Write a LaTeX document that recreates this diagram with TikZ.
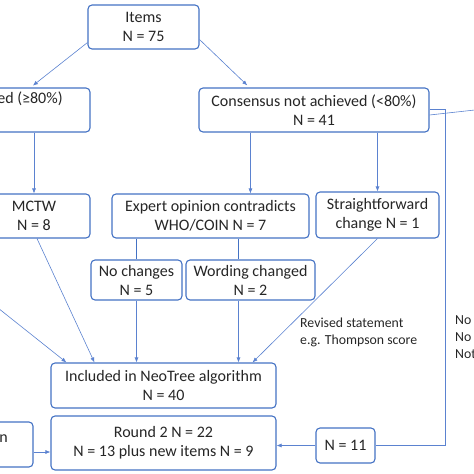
\documentclass[tikz,border=0pt]{standalone}
\usepackage{fontspec}
\setmainfont{Carlito}
\usepackage{xcolor}
\usepackage{tikz}
\usetikzlibrary{positioning,arrows.meta}
\definecolor{flowBlue}{HTML}{4472C4}
\definecolor{flowLine}{HTML}{5B82D0}
\definecolor{flowText}{HTML}{262626}

\begin{document}
\begin{tikzpicture}[x=1pt, y=-1pt,
  box/.style={rectangle, rounded corners=4pt, draw=flowBlue, line width=1.1pt, fill=white, text=flowText, align=center, inner sep=2pt, font=\fontsize{16}{19}\selectfont},
  note/.style={text=flowText, align=left, inner sep=0pt, anchor=north west, font=\fontsize{13.8}{17}\selectfont},
  arr/.style={-{Latex[length=5pt,width=4pt]}, draw=flowLine, line width=0.6pt},
  link/.style={draw=flowBlue, line width=0.9pt}]
\useasboundingbox (0,0) rectangle (474,474);

\node[box, minimum width=111pt, minimum height=44pt] (items) at (143.5,27) {Items\\N = 75};
\node[box, minimum width=234pt, minimum height=44pt] (agreed) at (-27,110) {Consensus achieved (≥80\%)\\\strut};
\node[box, minimum width=230pt, minimum height=44pt] (notagreed) at (314,110) {Consensus not achieved (<80\%)\\N = 41};

\node[box, minimum width=112pt, minimum height=44pt] (mctw) at (34,216) {MCTW\\N = 8};
\node[box, minimum width=197pt, minimum height=44pt] (expert) at (210.5,216) {Expert opinion contradicts\\WHO/COIN N = 7};
\node[box, minimum width=123pt, minimum height=46pt] (straight) at (377.5,215) {Straightforward\\change N = 1};

\node[box, minimum width=91pt, minimum height=40pt] (nochange) at (136.5,280) {No changes\\N = 5};
\node[box, minimum width=129pt, minimum height=40pt] (wording) at (250.5,280) {Wording changed\\N = 2};

\node[box, minimum width=225pt, minimum height=45pt] (included) at (163.5,385.5) {Included in NeoTree algorithm\\N = 40};
\node[box, minimum width=225pt, minimum height=54pt] (round2) at (163.5,443) {Round 2 N = 22\\N = 13 plus new items N = 9};
\node[box, minimum width=59pt, minimum height=35pt] (n11) at (345.5,445.5) {N = 11};
\node[box, minimum width=146pt, minimum height=45pt] (extra) at (-40,444.5) {};
\node[note, anchor=base east, font=\fontsize{16}{19}\selectfont] (extratext) at (8,442) {n};

\node[note] (revised) at (300,318) {Revised statement\\e.g. Thompson score};
\node[note] (reasons) at (455,315) {No\\No\\Not};

\coordinate (offleft) at (-90,238);
\coordinate (offright) at (520,105);

% top level
\draw[arr, shorten >=3pt] ([yshift=7pt]items.south west) -- ([xshift=-60pt]agreed.north east);
\draw[arr, shorten >=3pt] ([yshift=10pt]items.south east) -- ([xshift=51pt]notagreed.north west);
\draw[arr] (agreed.south -| mctw.north) -- (mctw.north);
\draw[arr] ([xshift=52pt]notagreed.south west) coordinate (a) -- (a |- expert.north);
\draw[arr] (straight.north |- notagreed.south) -- (straight.north);
\draw[flowLine, line width=0.6pt] ([yshift=-5pt]notagreed.east) -- (offright);
\draw[flowLine, line width=0.6pt] ([yshift=1pt]notagreed.east) -- ++(16,0) |- (n11.east);

% expert split
\draw[link] (nochange.north |- expert.south) -- (nochange.north);
\draw[link] ([xshift=-12pt]wording.north |- expert.south) -- ([xshift=-12pt]wording.north);

% into the algorithm
\draw[arr] (offleft) -- ([xshift=16pt]included.north west);
\draw[arr] ([xshift=3pt]mctw.south) -- ([xshift=44pt]included.north west);
\draw[arr] (nochange.south) -- (nochange.south |- included.north);
\draw[arr] ([xshift=-12pt]wording.south) -- ([xshift=-12pt]wording.south |- included.north);
\draw[arr] (straight.south) -- ([xshift=-24pt]included.north east);

% round 2
\draw[arr] ([yshift=-7.5pt]extra.east) -- ([yshift=-7.5pt]extra.east -| round2.west);
\draw[arr] (n11.west) -- (n11.west -| round2.east);
\end{tikzpicture}
\end{document}
